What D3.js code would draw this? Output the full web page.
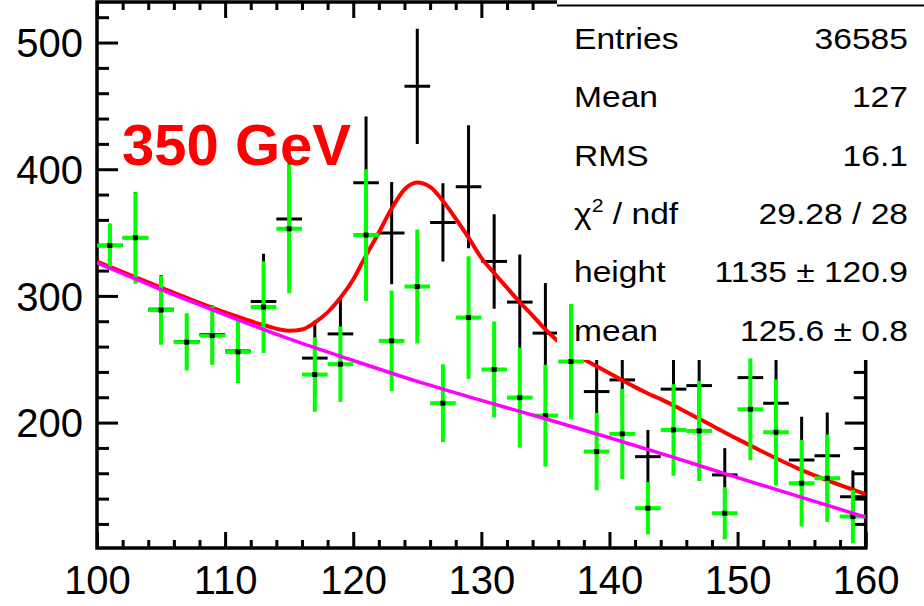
<!DOCTYPE html>
<html>
<head>
<meta charset="utf-8">
<script src="https://cdn.jsdelivr.net/npm/d3@7/dist/d3.min.js"></script>
<style>
body { margin: 0; background: #fff; }
</style>
</head>
<body>
<script>
// bin centres (bin width 2)
var bins = [101, 103, 105, 107, 109, 111, 113, 115, 117, 119, 121, 123, 125, 127, 129,
            131, 133, 135, 137, 139, 141, 143, 145, 147, 149, 151, 153, 155, 157, 159];

// black histogram (signal + background)
var blackVals = [340, 346, 289.5, 264, 269.5, 256.5, 295.6, 360.7, 250.9, 270, 389.3, 349.6, 465.4, 358, 386.2,
                 327.2, 295.1, 270.6, 300, 224.5, 233.7, 173.1, 226.4, 229.2, 158.7, 235.5, 215.3, 170.5, 173.9, 141.5];
var blackErrs = [17, 36, 27, 22, 23, 24.6, 37.7, 46.3, 29.4, 29.5, 52.4, 40.4, 45.5, 30.9, 48.5,
                 37.3, 37.5, 39.5, 45, 30, 30, 21.1, 36, 39, 21.1, 40, 41, 34.2, 34, 20.6];

// green histogram (background only)
var greenVals = [339.8, 345.9, 288.8, 263.5, 268.7, 255.8, 291.2, 353, 237.9, 246.1, 348, 264.5, 307.4, 215.3, 282.9,
                 241.9, 219.7, 205.5, 248.2, 177.1, 191.1, 132.4, 194.2, 193.4, 128.4, 210.5, 192.4, 152.1, 156.1, 125.8];
var greenErrs = [17.2, 36, 27.3, 22.4, 23.2, 24.6, 36.2, 51, 29.4, 29.8, 52, 39.7, 45, 30.7, 48.4,
                 37.9, 39.5, 40.2, 45.4, 30.6, 35.5, 20.6, 36.1, 39.5, 20.6, 40.2, 41.7, 34.2, 34.5, 21];

// fitted curve (red)
var fitX = [100, 105, 110, 113, 115, 116, 117, 118, 119, 120, 121, 122, 123, 124, 125, 126, 127, 128, 129, 130,
            131, 132, 133, 134, 135, 136, 137, 138, 139, 140, 141, 142, 143, 144, 145, 147, 150, 155, 160];
var fitY = [327, 306.5, 287, 277, 272.5, 273.5, 279, 287, 298.5, 313, 332, 350, 369, 384, 389.5, 386, 375, 361, 346, 330,
            318, 306.5, 295, 284.5, 273.5, 264, 256, 250, 244.5, 239, 233.5, 228, 223, 218.5, 213.5, 203, 187, 162.5, 143.5];

// background curve (magenta)
var bgX = [100, 105, 110, 115, 120, 125, 130, 135, 140, 145, 150, 155, 160];
var bgY = [326, 305, 285, 266, 249, 232.5, 217.5, 203, 188, 172.5, 156.5, 141, 125.3];

var xTicks = [100, 110, 120, 130, 140, 150, 160];
var xMinor = [102, 104, 106, 108, 112, 114, 116, 118, 122, 124, 126, 128, 132, 134, 136, 138,
              142, 144, 146, 148, 152, 154, 156, 158];
var yTicks = [200, 300, 400, 500];
var yMinor = [120, 140, 160, 180, 220, 240, 260, 280, 320, 340, 360, 380, 420, 440, 460, 480, 520];

var statNames = ["Entries", "Mean", "RMS", "chi", "height", "mean"];
var statValues = ["36585", "127", "16.1", "29.28 / 28", "1135 \u00b1 120.9", "125.6 \u00b1 0.8"];

var label = "350 GeV";

var w = 924, h = 606;
var frameL = 97, frameR = 865.7, frameT = 2, frameB = 548;

var svg = d3.select("body").append("svg")
    .attr("width", w)
    .attr("height", h)
    .style("font-family", "'Liberation Sans', Arial, sans-serif");

svg.append("rect").attr("width", w).attr("height", h).attr("fill", "#fff");

var x = d3.scaleLinear().domain([100, 160]).range([frameL, frameR]);
var y = d3.scaleLinear().domain([101, 532]).range([frameB, frameT]);

svg.append("clipPath").attr("id", "plotclip")
  .append("rect")
    .attr("x", frameL).attr("y", frameT)
    .attr("width", frameR - frameL).attr("height", frameB - frameT);

// axes, ROOT style: ticks inside the frame on all four sides
function styleAxis(g, keepText) {
    g.select(".domain").remove();
    g.selectAll("line").attr("stroke", "#000").attr("stroke-width", 3);
    if (!keepText) g.selectAll("text").remove();
}

svg.append("g").attr("transform", "translate(0," + frameB + ")")
    .call(d3.axisBottom(x).tickValues(xTicks).tickSize(-16).tickPadding(18).tickFormat(d3.format("d")))
    .call(styleAxis, true)
    .selectAll("text")
      .attr("font-size", 40).attr("font-family", "'Liberation Sans', Arial, sans-serif")
      .attr("fill", "#000").attr("dy", "0.71em");

svg.append("g").attr("transform", "translate(0," + frameB + ")")
    .call(d3.axisBottom(x).tickValues(xMinor).tickSize(-8))
    .call(styleAxis, false);

svg.append("g").attr("transform", "translate(0," + frameT + ")")
    .call(d3.axisTop(x).tickValues(xTicks).tickSize(-16))
    .call(styleAxis, false);
svg.append("g").attr("transform", "translate(0," + frameT + ")")
    .call(d3.axisTop(x).tickValues(xMinor).tickSize(-8))
    .call(styleAxis, false);

svg.append("g").attr("transform", "translate(" + frameL + ",0)")
    .call(d3.axisLeft(y).tickValues(yTicks).tickSize(-21).tickPadding(14).tickFormat(d3.format("d")))
    .call(styleAxis, true)
    .selectAll("text")
      .attr("font-size", 40).attr("font-family", "'Liberation Sans', Arial, sans-serif")
      .attr("fill", "#000").attr("dy", "0.36em");

svg.append("g").attr("transform", "translate(" + frameL + ",0)")
    .call(d3.axisLeft(y).tickValues(yMinor).tickSize(-12))
    .call(styleAxis, false);

svg.append("g").attr("transform", "translate(" + frameR + ",0)")
    .call(d3.axisRight(y).tickValues(yTicks).tickSize(-21))
    .call(styleAxis, false);
svg.append("g").attr("transform", "translate(" + frameR + ",0)")
    .call(d3.axisRight(y).tickValues(yMinor).tickSize(-12))
    .call(styleAxis, false);

svg.append("rect")
    .attr("x", frameL).attr("y", frameT)
    .attr("width", frameR - frameL).attr("height", frameB - frameT)
    .attr("fill", "none").attr("stroke", "#000").attr("stroke-width", 3.5);

var plot = svg.append("g").attr("clip-path", "url(#plotclip)");

var blackData = bins.map(function(b, i) { return {x: b, v: blackVals[i], e: blackErrs[i]}; });
var greenData = bins.map(function(b, i) { return {x: b, v: greenVals[i], e: greenErrs[i]}; });

function drawCrosses(g, data, color, width) {
    g.selectAll(null).data(data).enter().append("line")
        .attr("x1", function(d) { return x(d.x); })
        .attr("x2", function(d) { return x(d.x); })
        .attr("y1", function(d) { return y(d.v - d.e); })
        .attr("y2", function(d) { return y(d.v + d.e); })
        .attr("stroke", color).attr("stroke-width", width);
    g.selectAll(null).data(data).enter().append("line")
        .attr("x1", function(d) { return x(d.x - 1); })
        .attr("x2", function(d) { return x(d.x + 1); })
        .attr("y1", function(d) { return y(d.v); })
        .attr("y2", function(d) { return y(d.v); })
        .attr("stroke", color).attr("stroke-width", width);
}

// black histogram error crosses
drawCrosses(plot.append("g"), blackData, "#000", 3);

var line = d3.line()
    .x(function(d) { return x(d[0]); })
    .y(function(d) { return y(d[1]); })
    .curve(d3.curveMonotoneX);

plot.append("path")
    .datum(fitX.map(function(v, i) { return [v, fitY[i]]; }))
    .attr("d", line)
    .attr("fill", "none").attr("stroke", "#ff0000").attr("stroke-width", 4);

// stats box (covers the black histogram and fit)
svg.append("rect")
    .attr("x", 557).attr("y", 0).attr("width", w - 557).attr("height", 360)
    .attr("fill", "#fff");
svg.append("line")
    .attr("x1", 557).attr("x2", w).attr("y1", 5.5).attr("y2", 5.5)
    .attr("stroke", "#000").attr("stroke-width", 2);

var stats = svg.append("g").attr("font-size", 30).attr("fill", "#000");
statNames.forEach(function(n, i) {
    var by = 49 + i * 58.3;
    var t = stats.append("text").attr("transform", "translate(574," + by + ") scale(1.12,1)");
    if (n === "chi") {
        t.append("tspan").text("\u03c7");
        t.append("tspan").attr("font-size", 19).attr("dy", -12).text("2");
        t.append("tspan").attr("dy", 12).text(" / ndf");
    } else {
        t.text(n);
    }
    stats.append("text")
        .attr("transform", "translate(908," + by + ") scale(1.12,1)")
        .attr("text-anchor", "end")
        .text(statValues[i]);
});

// green histogram drawn on top of the box
var gg = svg.append("g").attr("clip-path", "url(#plotclip)");
drawCrosses(gg, greenData, "#00ff00", 4);
gg.selectAll(null).data(greenData).enter().append("rect")
    .attr("x", function(d) { return x(d.x) - 2.5; })
    .attr("y", function(d) { return y(d.v) - 2.5; })
    .attr("width", 5).attr("height", 5)
    .attr("fill", "#000");

gg.append("path")
    .datum(bgX.map(function(v, i) { return [v, bgY[i]]; }))
    .attr("d", line)
    .attr("fill", "none").attr("stroke", "#ff00ff").attr("stroke-width", 3.5);

svg.append("text")
    .attr("x", 122).attr("y", 165)
    .attr("font-size", 58).attr("font-weight", "bold")
    .attr("fill", "#ff0000")
    .text(label);
</script>
</body>
</html>
